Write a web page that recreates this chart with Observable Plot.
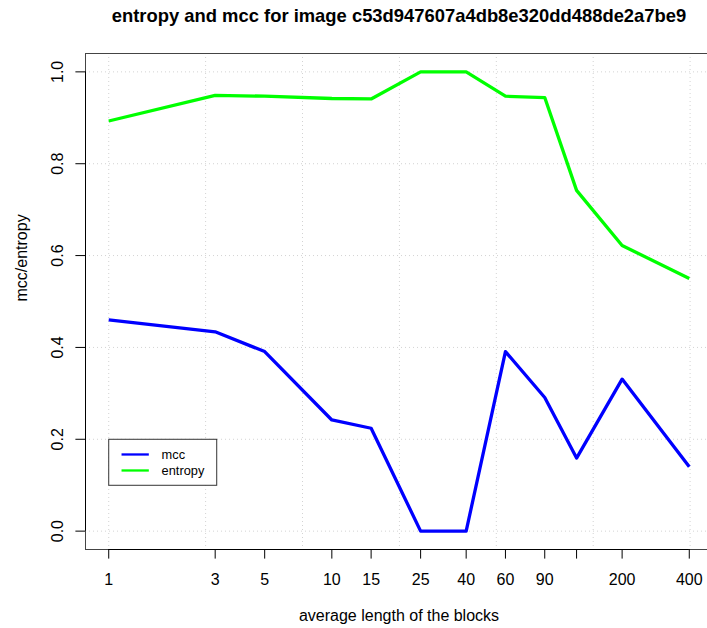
<!DOCTYPE html>
<html><head><meta charset="utf-8">
<script src="https://cdn.jsdelivr.net/npm/d3@7"></script>
<script src="https://cdn.jsdelivr.net/npm/@observablehq/plot@0.6"></script>
<style>
html,body{margin:0;padding:0;background:#fff;}
#chart{width:707px;height:628px;overflow:hidden;position:relative;}
#chart svg{max-width:none !important;width:712px !important;height:628px !important;}
</style></head><body><div id="chart"></div>
<script>
// ---- data ----
const blockLengths = [1, 3, 5, 10, 15, 25, 40, 60, 90, 125, 200, 400];
const mcc     = [0.460, 0.434, 0.391, 0.242, 0.224, 0.000, 0.000, 0.391, 0.291, 0.159, 0.331, 0.140];
const entropy = [0.893, 0.949, 0.947, 0.942, 0.941, 1.000, 1.000, 0.947, 0.944, 0.742, 0.622, 0.550];
const xTicks = [1, 3, 5, 10, 15, 25, 40, 60, 90, 125, 200, 400];
const xTickLabels = ["1", "3", "5", "10", "15", "25", "40", "60", "90", "", "200", "400"];
const yTicks = [0, 0.2, 0.4, 0.6, 0.8, 1.0];
const gridX = [1, 2.718, 7.389, 20.09, 54.6, 148.4, 403.4];
const gridY = [0, 0.2, 0.4, 0.6, 0.8, 1.0];
const seriesNames = ["mcc", "entropy"];
const seriesColors = ["#0000ff", "#00ff00"];
const legendAt = [1, 0.2];
const title = "entropy and mcc for image c53d947607a4db8e320dd488de2a7be9";
const xTitle = "average length of the blocks";
const yTitle = "mcc/entropy";

// ---- R-style 4% axis extension ----
const lx0 = Math.log10(d3.min(blockLengths)), lx1 = Math.log10(d3.max(blockLengths));
const lspan = lx1 - lx0;
const xDomain = [Math.pow(10, lx0 - 0.04 * lspan), Math.pow(10, lx1 + 0.04 * lspan)];
const yMin = d3.min([...mcc, ...entropy]), yMax = d3.max([...mcc, ...entropy]);
const ySpan = yMax - yMin;
const yDomain = [yMin - 0.04 * ySpan, yMax + 0.04 * ySpan];

const rows = [];
seriesNames.forEach((s, k) => {
  const vals = k === 0 ? mcc : entropy;
  blockLengths.forEach((x, i) => rows.push({x, v: vals[i], s}));
});
const xLabelRows = xTicks.map((x, i) => ({x, label: xTickLabels[i]}));

const W = 712, H = 628, ML = 85, MR = 0, MT = 53, MB = 79;
const font = "'Liberation Sans', Arial, Helvetica, sans-serif";
const gridStyle = {stroke: "#d3d3d3", strokeDasharray: "1,3", strokeWidth: 1};

const plot = Plot.plot({
  width: W, height: H,
  marginLeft: ML, marginRight: MR, marginTop: MT, marginBottom: MB,
  style: {fontFamily: font, background: "white", color: "black", maxWidth: "none"},
  x: {type: "log", domain: xDomain},
  y: {domain: yDomain},
  color: {domain: seriesNames, range: seriesColors},
  marks: [
    Plot.ruleX(gridX, gridStyle),
    Plot.ruleY(gridY, gridStyle),
    Plot.frame({stroke: "#444"}),
    Plot.line(rows, {x: "x", y: "v", z: "s", stroke: "s", strokeWidth: 3.3, strokeLinejoin: "round", strokeLinecap: "butt"}),
    Plot.ruleY([yDomain[0]], {x1: xTicks[0], x2: xTicks[xTicks.length - 1], stroke: "black"}),
    Plot.ruleX([xDomain[0]], {y1: yTicks[0], y2: yTicks[yTicks.length - 1], stroke: "black"}),
    Plot.axisX(xTicks, {tickSize: 9.6, label: null, tickFormat: () => ""}),
    Plot.text(xLabelRows, {x: "x", text: "label", frameAnchor: "bottom", dy: 24, lineAnchor: "top",
      textAnchor: "middle", fontSize: 16}),
    Plot.axisY(yTicks, {tickSize: 9.6, label: null, tickFormat: () => ""}),
    Plot.text(yTicks, {y: d => d, frameAnchor: "left", dx: -27.5, rotate: -90,
      text: d => d.toFixed(1), fontSize: 16, lineAnchor: "middle", textAnchor: "middle"}),
    Plot.text([title], {text: d => d, frameAnchor: "top", dy: -32, lineAnchor: "bottom",
      fontSize: 18.4, fontWeight: "bold"}),
    Plot.text([xTitle], {text: d => d, frameAnchor: "bottom", dy: 71.7, lineAnchor: "bottom", fontSize: 16}),
    Plot.text([yTitle], {text: d => d, frameAnchor: "left", dx: -64, rotate: -90, lineAnchor: "middle", fontSize: 16})
  ]
});

// ---- legend (R legend at data coordinates legendAt, top-left) ----
let sx, sy;
try { sx = plot.scale("x"); sy = plot.scale("y"); } catch (e) {}
const px = (sx && sx.apply) ? sx.apply(legendAt[0]) : d3.scaleLog().domain(xDomain).range([ML, W - MR])(legendAt[0]);
const py = (sy && sy.apply) ? sy.apply(legendAt[1]) : d3.scaleLinear().domain(yDomain).range([H - MB, MT])(legendAt[1]);
const svg = d3.select(plot.tagName.toLowerCase() === "svg" ? plot : plot.querySelector("svg"));
const lg = svg.append("g").attr("transform", `translate(${px},${py})`)
  .attr("font-family", font).attr("font-size", 12.8).attr("text-anchor", "start");
lg.append("rect").attr("x", 0.5).attr("y", 0.5).attr("width", 108).attr("height", 46)
  .attr("fill", "white").attr("stroke", "#333").attr("stroke-width", 1);
seriesNames.forEach((s, i) => {
  const yy = 15.7 + i * 16;
  lg.append("line").attr("x1", 13.3).attr("x2", 40.6).attr("y1", yy).attr("y2", yy)
    .attr("stroke", seriesColors[i]).attr("stroke-width", 2.3);
  lg.append("text").attr("x", 53.4).attr("y", yy).attr("dy", "0.35em")
    .attr("text-anchor", "start").attr("fill", "black").text(s);
});

document.getElementById("chart").appendChild(plot);
</script></body></html>
